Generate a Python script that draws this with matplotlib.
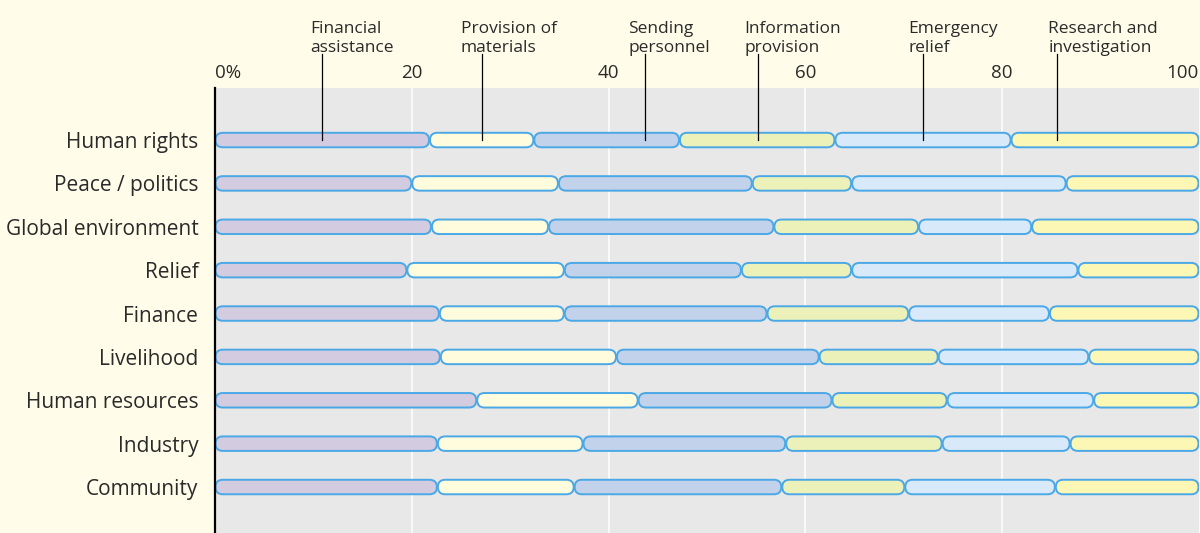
import numpy as np
import matplotlib.pyplot as plt
from matplotlib.patches import FancyBboxPatch

plt.rcParams['font.family'] = ['Open Sans', 'DejaVu Sans']

categories = ['Human rights', 'Peace / politics', 'Global environment', 'Relief',
              'Finance', 'Livelihood', 'Human resources', 'Industry', 'Community']
series_names = ['Financial\nassistance', 'Provision of\nmaterials', 'Sending\npersonnel',
                'Information\nprovision', 'Emergency\nrelief', 'Research and\ninvestigation']

financial   = [21.8, 20.0, 22.0, 19.5, 22.8, 22.9, 26.6, 22.6, 22.6]
materials   = [10.6, 14.9, 11.9, 16.0, 12.7, 17.9, 16.4, 14.8, 13.9]
personnel   = [14.8, 19.7, 22.9, 18.0, 20.6, 20.6, 19.7, 20.6, 21.1]
information = [15.8, 10.1, 14.7, 11.2, 14.4, 12.1, 11.7, 15.9, 12.5]
emergency   = [17.9, 21.8, 11.5, 23.0, 14.3, 15.3, 14.9, 13.0, 15.3]
research    = [19.1, 13.5, 17.0, 12.3, 15.2, 11.2, 10.7, 13.1, 14.6]

# where the callout lines hit the first row, and where their texts start
callout_x = [10.9, 27.1, 43.7, 55.2, 72.0, 85.6]
callout_text_x = [9.7, 25.0, 42.0, 53.8, 70.5, 84.7]

colors = ['#d3cbe0', '#fefcdd', '#c3d2eb', '#ebf1b8', '#d8eaf9', '#fdf7b6']
edge = '#4aa8e6'
bg = '#fffdea'
text_color = '#2a2a2a'

W, H = 1200, 533
fig = plt.figure(figsize=(W / 100, H / 100), dpi=100, facecolor=bg)
ax_l, ax_r, ax_t, ax_b = 215, 1199, 88, 533
ax = fig.add_axes([ax_l / W, 1 - ax_b / H, (ax_r - ax_l) / W, (ax_b - ax_t) / H])
ax.set_facecolor('#e8e8e8')

ylim = (9.06, -1.2)
ax.set_xlim(0, 100)
ax.set_ylim(*ylim)

pxx = (ax_r - ax_l) / 100
pxy = (ax_b - ax_t) / (ylim[0] - ylim[1])
aspect = pxx / pxy
bar_h = 14.5 / pxy

data = np.array([financial, materials, personnel, information, emergency, research])
lefts = np.vstack([np.zeros(len(categories)), np.cumsum(data, axis=0)[:-1]])

for s in range(data.shape[0]):
    for i in range(len(categories)):
        x0 = lefts[s, i]
        w = data[s, i]
        r = (bar_h / aspect) / 2
        p = FancyBboxPatch((x0 + 0.05, i - bar_h / 2), w - 0.1, bar_h,
                           boxstyle=f'round,pad=0,rounding_size={r}',
                           mutation_aspect=aspect,
                           facecolor=colors[s], edgecolor=edge, linewidth=1.4, zorder=3)
        ax.add_patch(p)

# gridlines
for g in [20, 40, 60, 80]:
    ax.axvline(g, color='white', lw=1.1, zorder=1)

# callouts
line_top = -(140 - 54) / pxy
text_base = -(140 - 52) / pxy
for name, lx, tx in zip(series_names, callout_x, callout_text_x):
    ax.plot([lx, lx], [line_top, 0], color='black', lw=0.9, zorder=4, clip_on=False)
    ax.text(tx, text_base, name, ha='left', va='baseline', fontsize=12.5,
            color=text_color, linespacing=1.25, clip_on=False)

ax.xaxis.tick_top()
ax.set_xticks([0, 20, 40, 60, 80, 100])
ax.set_xticklabels(['0%', '20', '40', '60', '80', '100'])
ax.tick_params(axis='x', length=0, pad=4, labelsize=13.5, labelcolor=text_color)
xl = ax.get_xticklabels()
xl[0].set_ha('left')
xl[-1].set_ha('right')

ax.set_yticks(range(len(categories)))
ax.set_yticklabels(categories)
ax.tick_params(axis='y', length=0, pad=12, labelsize=15, labelcolor=text_color)

for sp in ['top', 'right', 'bottom']:
    ax.spines[sp].set_visible(False)
ax.spines['left'].set_color('black')
ax.spines['left'].set_linewidth(1.6)
ax.spines['left'].set_zorder(5)

fig.savefig('out.png', dpi=100, facecolor=bg)
